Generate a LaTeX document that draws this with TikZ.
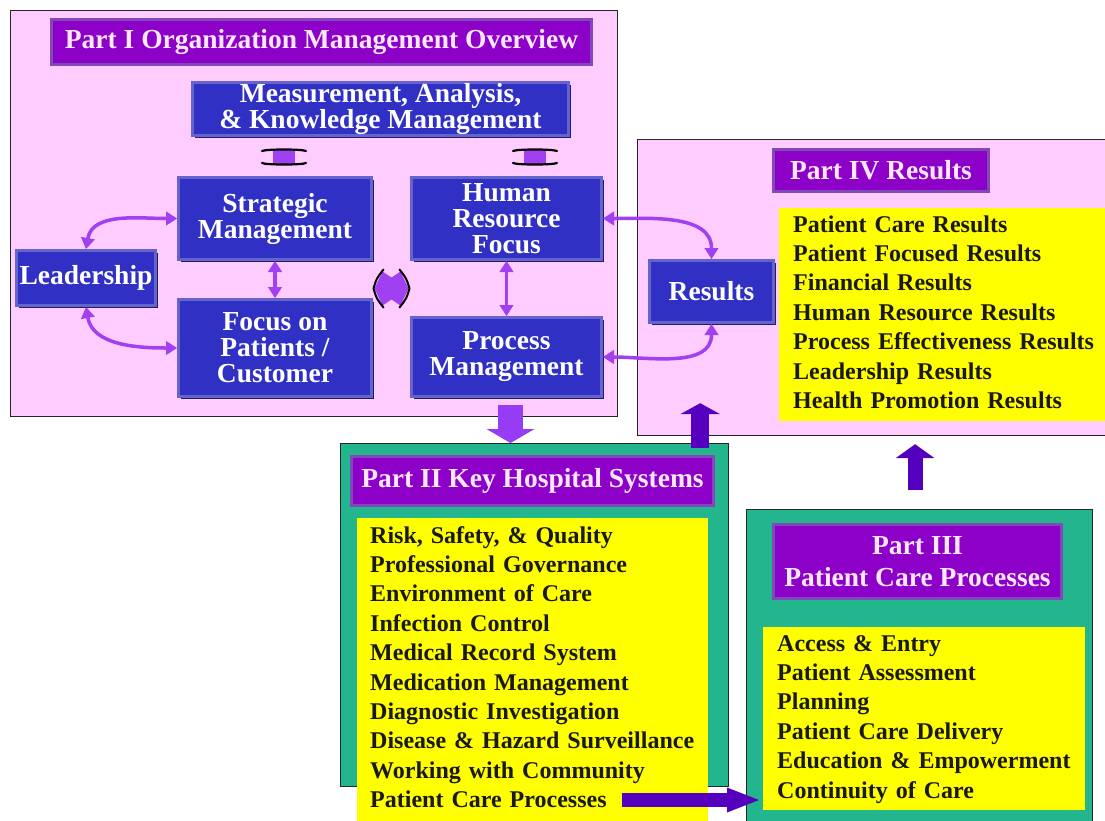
\documentclass[tikz,border=0pt]{standalone}
\usepackage{fontspec}
\setmainfont{Liberation Serif}
\usetikzlibrary{arrows.meta, positioning, calc, shadows}

\definecolor{panelpink}{RGB}{255,204,255}
\definecolor{panelteal}{RGB}{35,182,142}
\definecolor{listyellow}{RGB}{255,255,0}
\definecolor{boxblue}{RGB}{48,48,196}
\definecolor{boxrim}{RGB}{100,100,204}
\definecolor{boxshade}{RGB}{28,28,110}
\definecolor{headpurple}{RGB}{140,0,200}
\definecolor{headrim}{RGB}{128,72,184}
\definecolor{headshade}{RGB}{80,20,120}
\definecolor{headtext}{RGB}{255,232,255}
\definecolor{linkviolet}{RGB}{160,64,240}
\definecolor{fatviolet}{RGB}{150,60,245}
\definecolor{fatindigo}{RGB}{84,0,190}

\newcommand{\boxfont}{\fontsize{27.5}{26}\selectfont\bfseries}
\newcommand{\headfont}{\fontsize{27.5}{32}\selectfont\bfseries}
\newcommand{\listfont}{\fontsize{24}{29.4}\selectfont\bfseries}

\tikzset{
  panel/.style={draw=black!85, line width=1.2pt, anchor=north west, inner sep=0pt},
  head/.style={fill=headpurple, draw=headrim, line width=3pt, text=headtext,
    font=\headfont, align=center, inner sep=0pt,
    drop shadow={shadow xshift=1.5pt, shadow yshift=-1.5pt, fill=headshade, opacity=1}},
  unit/.style={fill=boxblue, draw=boxrim, line width=3pt, text=white,
    font=\boxfont, align=center, inner sep=0pt,
    drop shadow={shadow xshift=2pt, shadow yshift=-2pt, fill=boxshade, opacity=1}},
  items/.style={fill=listyellow, anchor=north west, font=\listfont, text=black!90,
    align=left, inner xsep=14pt, inner ysep=3.4pt},
  link/.style={draw=linkviolet, line width=3.5pt,
    {Triangle[length=11pt,width=14pt,line width=1pt]}-{Triangle[length=11pt,width=14pt,line width=1pt]}},
  fat/.style n args={4}{draw=#1, line width=#2, -{Triangle[length=#4,width=#3,line width=0pt]}},
  updown/.pic={
    \fill[linkviolet] (-11,-7) rectangle (11,7);
    \draw[line width=2.2pt, line cap=round]
      (-22,-6) .. controls (-18,-8) and (18,-8) .. (22,-6)
      (-22,6) .. controls (-18,8) and (18,8) .. (22,6);
  },
  leftright/.pic={
    \fill[linkviolet] (-17,0) -- (-9,-17) -- (0,-11) -- (9,-17) -- (17,0)
      -- (9,17) -- (0,11) -- (-9,17) -- cycle;
    \draw[line width=2pt, line cap=round, line join=round]
      (-8,-19) .. controls (-15,-10) .. (-18,0) .. controls (-15,10) .. (-8,19)
      (8,-19) .. controls (15,-10) .. (18,0) .. controls (15,10) .. (8,19);
  },
}

\begin{document}
\begin{tikzpicture}[x=1pt, y=-1pt]
  \path[use as bounding box, fill=white] (0,0) rectangle (1105,820);

  % panels
  \node[panel, fill=panelpink, minimum width=607pt, minimum height=406pt] (partI) at (10,10) {};
  \node[panel, fill=panelpink, minimum width=473pt, minimum height=296pt] (partIV) at (637,139) {};
  \node[panel, fill=panelteal, minimum width=388pt, minimum height=343pt] (partII) at (340,443) {};
  \node[panel, fill=panelteal, minimum width=346pt, minimum height=330pt] (partIII) at (746,509) {};

  % part titles
  \node[head, minimum width=540pt, minimum height=45pt] (titleI) at (321.5,42) {Part I Organization Management Overview};
  \node[head, minimum width=215pt, minimum height=42pt] (titleIV) at (881,170.5) {Part IV Results};
  \node[head, minimum width=362pt, minimum height=49pt] (titleII) at (532.5,481) {Part II Key Hospital Systems};
  \node[head, minimum width=288pt, minimum height=74pt] (titleIII) at (917.5,561.5) {Part III\\Patient Care Processes};

  % organization units
  \node[unit, minimum width=376pt, minimum height=53pt] (meas) at (380.5,109) {Measurement, Analysis,\\\& Knowledge Management};
  \node[unit, minimum width=193pt, minimum height=82pt] (strat) at (275,218.5) {Strategic\\Management};
  \node[unit, minimum width=190pt, minimum height=82pt, right=37pt of strat] (hr) {Human\\Resource\\Focus};
  \node[unit, minimum width=139pt, minimum height=55pt] (lead) at (86,278) {Leadership};
  \node[unit, minimum width=193pt, minimum height=97pt, below=37pt of strat] (focus) {Focus on\\Patients /\\Customer};
  \node[unit, minimum width=190pt, minimum height=79pt, below=55pt of hr] (proc) {Process\\Management};
  \node[unit, minimum width=124pt, minimum height=62pt] (res) at (711.5,291.5) {Results};

  % lists
  \node[items, text width=310pt] (listIV) at (779,208) {\strut Patient Care Results\\
    Patient Focused Results\\Financial Results\\Human Resource Results\\
    Process Effectiveness Results\\Leadership Results\\Health Promotion Results\strut};
  \node[items, text width=325pt, inner xsep=13pt, inner ysep=4.4pt] (listII) at (357,518) {\strut Risk, Safety, \& Quality\\
    Professional Governance\\Environment of Care\\Infection Control\\
    Medical Record System\\Medication Management\\Diagnostic Investigation\\
    Disease \& Hazard Surveillance\\Working with Community\\Patient Care Processes\strut};
  \node[items, text width=294pt] (listIII) at (763,627) {\strut Access \& Entry\\
    Patient Assessment\\Planning\\Patient Care Delivery\\
    Education \& Empowerment\\Continuity of Care\strut};

  % links inside part I
  \draw[link] (lead.north) to[out=80, in=180] (strat.west);
  \draw[link] (lead.south) to[out=-80, in=180] (focus.west);
  \draw[link] (strat) -- (focus);
  \draw[link] (hr) -- (proc);
  \draw[link] (hr.east) to[out=0, in=90] (res.north);
  \draw[link] (proc.east) to[out=0, in=-90] (res.south);
  \pic at (284,157) {updown};
  \pic at (535,157) {updown};
  \coordinate (hx) at ($(strat.south east)!0.5!(proc.north west)$);
  \pic at (hx) {leftright};

  % flow between the parts
  \draw[fat={fatviolet}{25pt}{48pt}{14pt}] ([xshift=4pt,yshift=-7pt]proc.south) -- ([xshift=4pt]proc.south |- partII.north);
  \draw[fat={fatindigo}{18pt}{40pt}{11pt}] ([xshift=-29pt,yshift=-5pt]partII.north east) -- ([xshift=-29pt,yshift=33pt]partII.north east |- partIV.south);
  \draw[fat={fatindigo}{15pt}{39pt}{14pt}] ([xshift=-4.5pt,yshift=19pt]partIII.north) -- ([xshift=-4.5pt,yshift=-8pt]partIII.north |- partIV.south);
  \coordinate (pcp) at (622,800);
  \draw[fat={fatindigo}{14pt}{25pt}{32pt}] (pcp) -- ([xshift=-4pt]listIII.west |- pcp);
\end{tikzpicture}
\end{document}
